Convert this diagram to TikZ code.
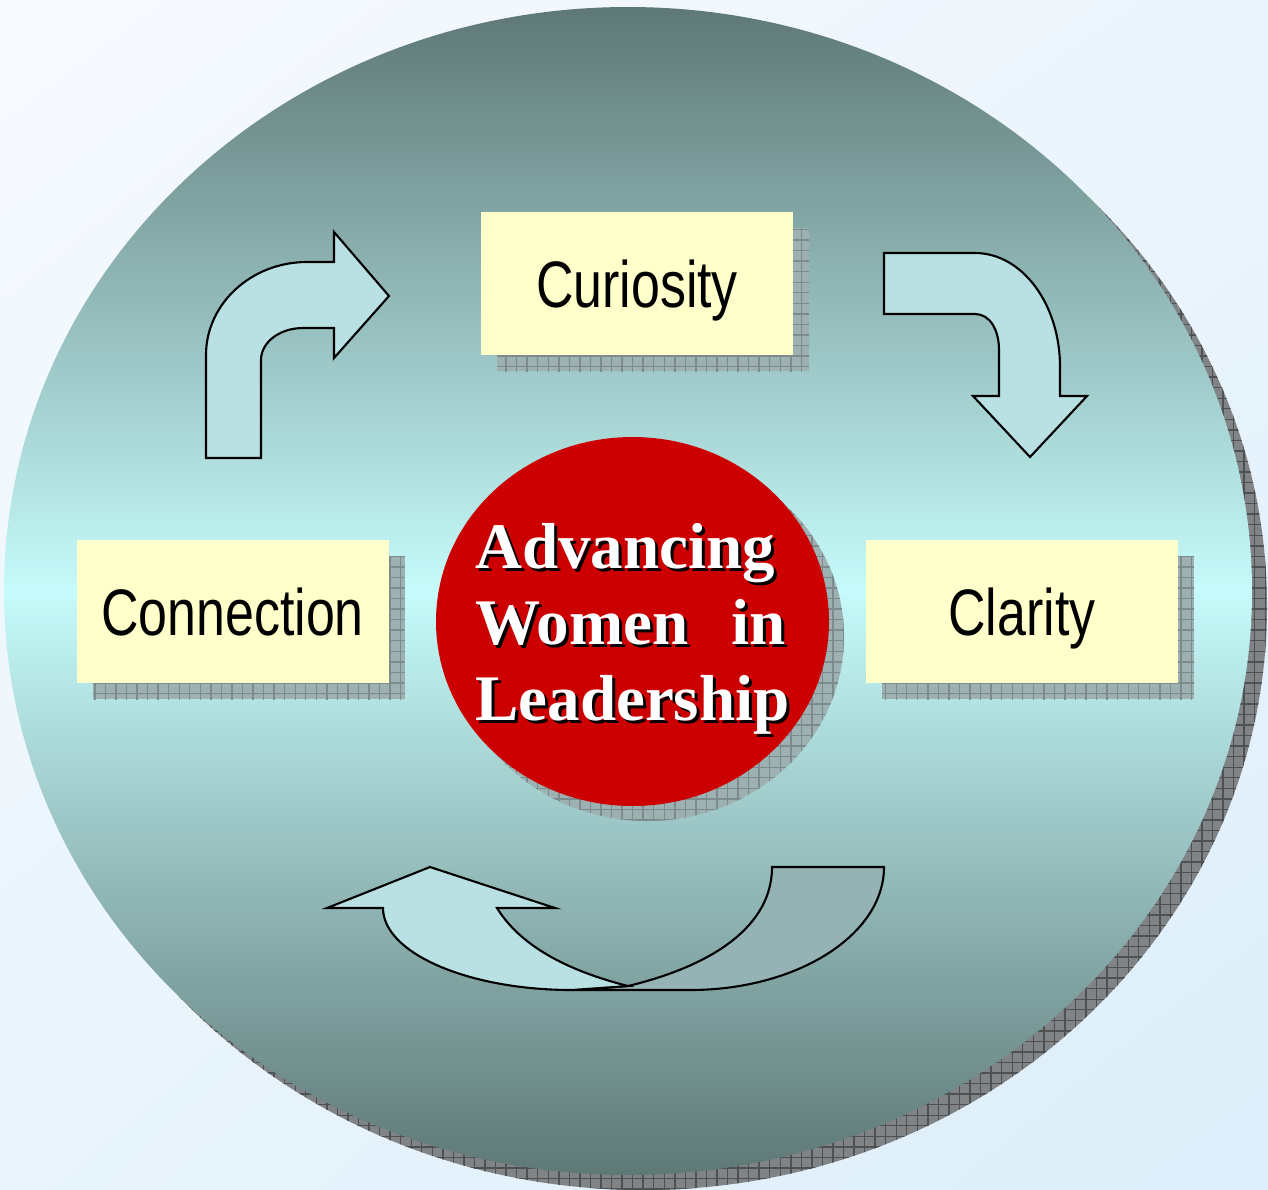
\documentclass[tikz,border=0pt]{standalone}
\usepackage{fontspec}
\newfontfamily\boxfont[FakeStretch=0.79]{Liberation Sans}
\newfontfamily\titlefont{Liberation Serif}
\usetikzlibrary{shapes.geometric,patterns,shadows,shadings}
\definecolor{bgtl}{HTML}{F7FAFE}
\definecolor{bgtr}{HTML}{ECF5FC}
\definecolor{bgbl}{HTML}{E9F4FB}
\definecolor{bgbr}{HTML}{DCEEFA}
\definecolor{disctop}{HTML}{5E7876}
\definecolor{discmid}{HTML}{C6FBFB}
\definecolor{cardyellow}{HTML}{FFFFCC}
\definecolor{arrowblue}{HTML}{B9E0E3}
\definecolor{arrowback}{HTML}{95B2B5}
\definecolor{hubred}{HTML}{CC0000}
\definecolor{shadowfill}{HTML}{9DB0B2}
\definecolor{shadowgrid}{HTML}{7D8B8D}
\definecolor{discshadow}{HTML}{808487}
\definecolor{discgrid}{HTML}{4E5052}
\tikzset{
  card/.style={
    % The shape:
    shape=rectangle,
    % The size:
    minimum width=3.12cm,minimum height=1.43cm,inner sep=0pt,
    text height=13.4pt,text depth=0pt,
    % The filling:
    fill=cardyellow,
    % The shadow: grey, with a fine grid over it
    general shadow={shadow xshift=1.6mm,shadow yshift=-1.6mm,fill=shadowfill},
    general shadow={shadow xshift=1.6mm,shadow yshift=-1.6mm,
      pattern=grid,pattern color=shadowgrid},
    % The text:
    font=\boxfont\fontsize{18.7}{22}\selectfont}}
\tikzset{
  hub/.style={
    % The shape:
    ellipse,minimum width=3.93cm,minimum height=3.69cm,inner sep=0pt,
    % The filling:
    fill=hubred,
    general shadow={shadow xshift=1.5mm,shadow yshift=-1.5mm,fill=shadowfill},
    general shadow={shadow xshift=1.5mm,shadow yshift=-1.5mm,
      pattern=grid,pattern color=shadowgrid}}}
\tikzset{
  hubtext/.style={
    align=left,inner sep=0pt,
    font=\titlefont\bfseries\fontsize{18.5}{21.6}\selectfont},
  turn/.style={draw=black,line width=0.6pt,fill=arrowblue,line join=miter}}

\begin{document}
\begin{tikzpicture}
	\useasboundingbox (0,0) rectangle (12.68,-11.89);
	% Background
	\shade[upper left=bgtl,upper right=bgtr,lower left=bgbl,lower right=bgbr]
		(0,0) rectangle (12.68,-11.89);
	% The big disc and its shadow
	\fill[discshadow] (6.43,-6.06) ellipse [x radius=6.24cm,y radius=5.84cm];
	\fill[pattern=grid,pattern color=discgrid] (6.43,-6.06) ellipse [x radius=6.24cm,y radius=5.84cm];
	\shade[top color=disctop,bottom color=disctop,middle color=discmid]
		(6.28,-5.91) ellipse [x radius=6.24cm,y radius=5.84cm];
	% The three cards
	\node[card] (curiosity) at (6.37,-2.835) {Curiosity};
	\node[card] (connection) at (2.325,-6.115) {Connection};
	\node[card] (clarity) at (10.22,-6.115) {Clarity};
	% The hub
	\node[hub] (hub) at (6.325,-6.215) {};
	\node[hubtext,text=black] at ([shift={(0.03,-0.10)}]hub.center) {Advancing\\Women~~\,in\\Leadership};
	\node[hubtext,text=white] (hubtitle) at ([yshift=-0.07cm]hub.center) {Advancing\\Women~~\,in\\Leadership};
	% Arrow from connection to curiosity
	\draw[turn] (2.06,-4.58) -- (2.06,-3.55)
		.. controls (2.06,-3.04) and (2.51,-2.62) .. (3.07,-2.62)
		-- (3.34,-2.62) -- (3.34,-2.32) -- (3.89,-2.96) -- (3.34,-3.58) -- (3.34,-3.28)
		-- (3.03,-3.28) .. controls (2.80,-3.28) and (2.61,-3.42) .. (2.61,-3.60)
		-- (2.61,-4.58) -- cycle;
	% Arrow from curiosity to clarity
	\draw[turn] (8.84,-2.53) -- (9.75,-2.53)
		.. controls (10.22,-2.53) and (10.60,-3.04) .. (10.60,-3.67)
		-- (10.60,-3.96) -- (10.87,-3.96) -- (10.30,-4.57) -- (9.73,-3.96) -- (9.99,-3.96)
		-- (9.99,-3.50) .. controls (9.99,-3.30) and (9.90,-3.14) .. (9.75,-3.14)
		-- (8.84,-3.14) -- cycle;
	% Arrow from clarity back to connection
	\draw[turn,fill=arrowback] (6.28,-9.86)
		.. controls (7.15,-9.65) and (7.72,-9.25) .. (7.72,-8.67)
		-- (8.84,-8.67) .. controls (8.84,-9.35) and (7.97,-9.90) .. (6.90,-9.90)
		-- (5.72,-9.90) -- cycle;
	\draw[turn] (3.83,-9.08) .. controls (3.83,-9.53) and (4.68,-9.90) .. (5.72,-9.90)
		-- (6.28,-9.86) .. controls (5.65,-9.70) and (5.20,-9.45) .. (4.97,-9.08)
		-- (5.55,-9.08) -- (4.30,-8.67) -- (3.27,-9.08) -- cycle;
\end{tikzpicture}
\end{document}
